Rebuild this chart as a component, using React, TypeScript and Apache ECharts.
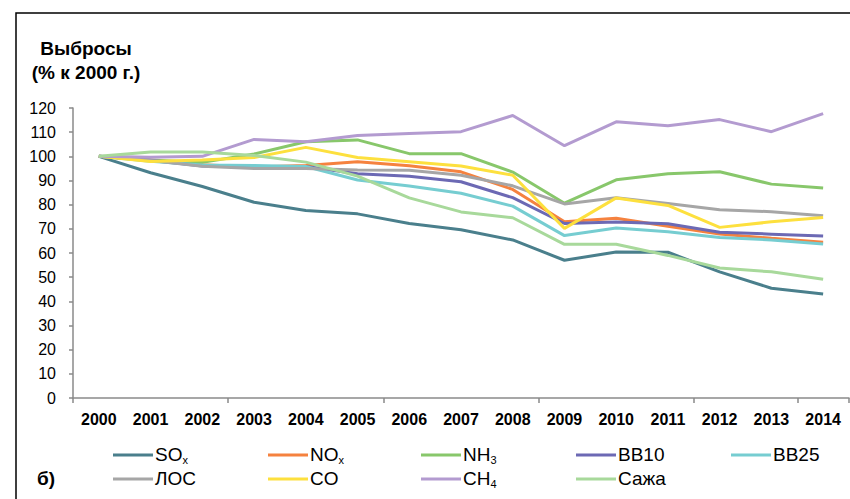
import React, { useEffect, useRef } from "react";
import * as echarts from "echarts";

const years = ["2000","2001","2002","2003","2004","2005","2006","2007","2008","2009","2010","2011","2012","2013","2014"];
const names = ["SOx","NOx","NH3","BB10","BB25","ЛОС","CO","CH4","Сажа"];
const colors = ["#4a7f8c","#f5823f","#88c76b","#6c69b4","#76cdd1","#a6a6a6","#fde03e","#b39bd0","#a8d99b"];

const soxValues = [100, 93.2, 87.5, 81, 77.6, 76.2, 72.2, 69.6, 65.4, 57, 60.4, 60.3, 52.2, 45.4, 43];
const noxValues = [100, 98.5, 96.5, 95.6, 96.2, 97.8, 96.1, 93.6, 86.3, 72.9, 74.4, 71.1, 67.9, 66.1, 64.4];
const nh3Values = [100, 98.5, 97.5, 101, 106, 106.8, 101.1, 101.1, 93.5, 80.6, 90.3, 92.8, 93.6, 88.5, 86.9];
const bb10Values = [100, 98.4, 96, 95.6, 95.8, 92.8, 91.8, 89.5, 82.9, 72.2, 72.8, 72.1, 68.6, 67.8, 67];
const bb25Values = [100, 98, 96.4, 96.2, 95.8, 90.2, 87.7, 84.7, 79.4, 67.2, 70.3, 68.8, 66.4, 65.4, 63.7];
const locValues = [100, 98.3, 95.9, 95, 95, 94.3, 94.2, 92.2, 87.8, 80.3, 82.9, 80.5, 77.9, 77.1, 75.4];
const coValues = [100, 97.9, 98.5, 99.5, 103.7, 99.5, 97.8, 96, 92.2, 70.2, 82.8, 79.7, 70.6, 72.9, 74.7];
const ch4Values = [100, 99.6, 100, 107, 106, 108.6, 109.4, 110.2, 116.9, 104.4, 114.3, 112.7, 115.2, 110.2, 117.7];
const sazhaValues = [100, 101.8, 101.8, 100.3, 97.6, 91.8, 82.8, 77, 74.6, 63.6, 63.6, 59, 53.8, 52.2, 49.1];

const allValues = [soxValues, noxValues, nh3Values, bb10Values, bb25Values, locValues, coValues, ch4Values, sazhaValues];

const yTicks = { min: 0, max: 120, interval: 10 };

const legendLabels: Record<string, string> = {
  SOx: "{n|SO}{s|x}",
  NOx: "{n|NO}{s|x}",
  NH3: "{n|NH}{s|3}",
  CH4: "{n|CH}{s|4}",
};

const FONT = "'Liberation Sans', Arial, sans-serif";

export default function App() {
  const ref = useRef<HTMLDivElement>(null);
  useEffect(() => {
    document.body.style.margin = "0";
    if (!ref.current) return;
    const chart = echarts.init(ref.current, null, { renderer: "svg" });
    const colX = [113, 268, 421, 576, 731];
    const rowY = [442, 466];
    const legends = names.map((nm, i) => ({
      data: [nm],
      left: colX[i % 5],
      top: rowY[Math.floor(i / 5)],
      padding: 0,
      icon: "rect",
      itemWidth: 40,
      itemHeight: 3,
      itemGap: 0,
      selectedMode: false,
      formatter: (n: string) => legendLabels[n] || "{n|" + n + "}{e|.}",
      textStyle: {
        rich: {
          n: { fontFamily: FONT, fontSize: 19, lineHeight: 20, color: "#000", verticalAlign: "top", padding: [0, 0, 3, -3] },
          s: { fontFamily: FONT, fontSize: 11, lineHeight: 11, color: "#000", verticalAlign: "bottom", padding: [12, 0, 0, 0] },
          e: { fontFamily: FONT, fontSize: 11, lineHeight: 11, color: "rgba(0,0,0,0)", verticalAlign: "bottom", padding: [12, 0, 0, 0] },
        },
      },
    }));
    chart.setOption({
      animation: false,
      grid: { left: 73, right: 1, top: 108, bottom: 101 },
      legend: legends,
      xAxis: {
        type: "category",
        data: years,
        boundaryGap: true,
        axisLine: { lineStyle: { color: "#8a8a8a", width: 1.5 } },
        axisTick: { show: true, interval: 2, length: 5, lineStyle: { color: "#8a8a8a", width: 1.5 } },
        axisLabel: { interval: 0, margin: 13, color: "#000", fontFamily: FONT, fontWeight: "bold", fontSize: 16 },
      },
      yAxis: {
        type: "value",
        min: yTicks.min,
        max: yTicks.max,
        interval: yTicks.interval,
        splitLine: { show: false },
        axisLine: { show: true, lineStyle: { color: "#8a8a8a", width: 1.5 } },
        axisTick: { show: true, length: 4, lineStyle: { color: "#8a8a8a", width: 1.5 } },
        axisLabel: { margin: 17, color: "#000", fontFamily: FONT, fontSize: 16 },
      },
      series: names.map((nm, i) => ({
        name: nm,
        type: "line",
        data: allValues[i],
        showSymbol: false,
        symbol: "none",
        lineStyle: { color: colors[i], width: 3 },
        itemStyle: { color: colors[i] },
      })),
      graphic: [
        {
          type: "rect",
          shape: { x: 16, y: 13, width: 1000, height: 1000 },
          style: { fill: "none", stroke: "#000", lineWidth: 1.5 },
          silent: true,
        },
        {
          type: "text",
          x: 86,
          y: 48,
          style: { text: "Выбросы", fontFamily: FONT, fontWeight: "bold", fontSize: 19, fill: "#000", align: "center", verticalAlign: "middle" },
        },
        {
          type: "text",
          x: 86,
          y: 72,
          style: { text: "(% к 2000 г.)", fontFamily: FONT, fontWeight: "bold", fontSize: 19, fill: "#000", align: "center", verticalAlign: "middle" },
        },
        {
          type: "text",
          x: 37,
          y: 478,
          style: { text: "б)", fontFamily: FONT, fontWeight: "bold", fontSize: 19, fill: "#000", align: "left", verticalAlign: "middle" },
        },
      ],
    });
    return () => chart.dispose();
  }, []);
  return <div ref={ref} style={{ width: 850, height: 499 }} />;
}
